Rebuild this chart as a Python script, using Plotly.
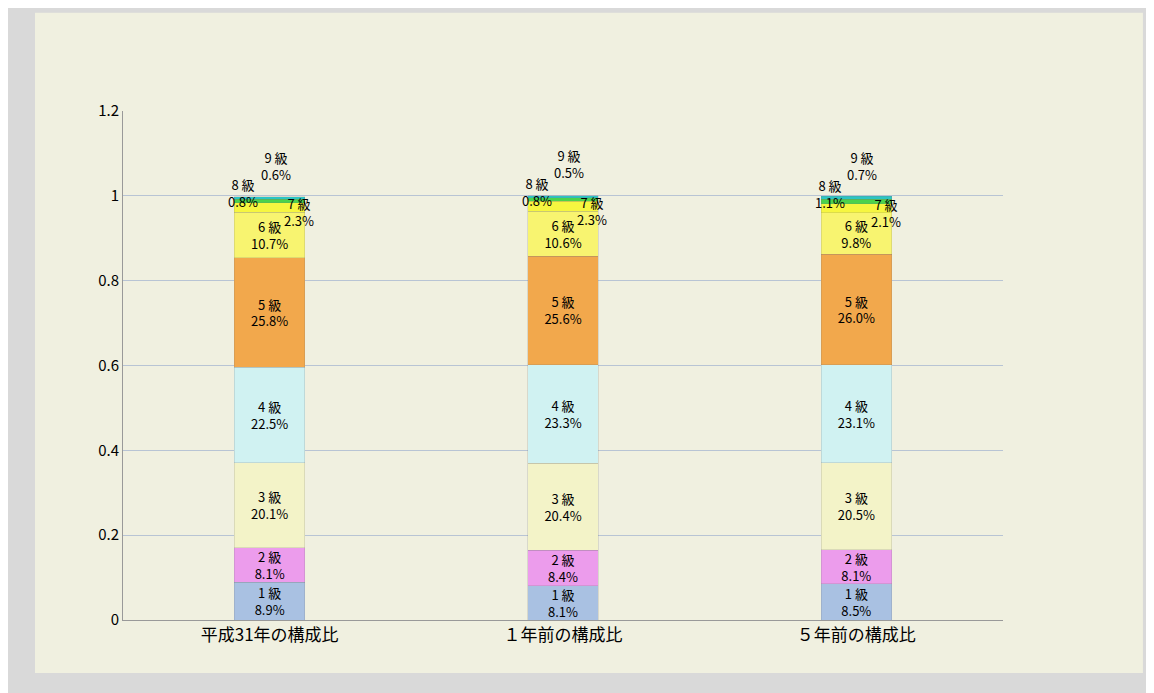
import plotly.graph_objects as go

categories = ["平成31年の構成比", "１年前の構成比", "５年前の構成比"]
grades = ["1 級", "2 級", "3 級", "4 級", "5 級", "6 級", "7 級", "8 級", "9 級"]
shares = [
    [8.9, 8.1, 8.5],
    [8.1, 8.4, 8.1],
    [20.1, 20.4, 20.5],
    [22.5, 23.3, 23.1],
    [25.8, 25.6, 26.0],
    [10.7, 10.6, 9.8],
    [2.3, 2.3, 2.1],
    [0.8, 0.8, 1.1],
    [0.6, 0.5, 0.7],
]
colors = ["#a9c1e2", "#ec9cec", "#f3f3c8", "#d0f2f2", "#f2a84c",
          "#f8f470", "#f6f640", "#4cd24c", "#2cc4c4"]

fig = go.Figure()
for g, vals, c in zip(grades, shares, colors):
    small = vals[0] < 5
    fig.add_trace(go.Bar(
        x=categories,
        y=[v / 100 for v in vals],
        name=g,
        marker=dict(color=c, line=dict(color="rgba(120,120,120,0.4)", width=0.5)),
        text=[f"{g}<br>{v:.1f}%" if not small else "" for v in vals],
        textposition="inside",
        textangle=0,
        insidetextanchor="middle",
        textfont=dict(size=13, color="black"),
        hoverinfo="skip",
        width=0.24,
    ))

# labels for the thin top segments (7, 8, 9 級)
base = [sum(shares[i][j] for i in range(6)) / 100 for j in range(3)]
offsets = [(0.1, 0.0), (-0.09, 0.045), (0.02, 0.11)]
for j, cat in enumerate(categories):
    for k, (dx, dy) in zip(range(6, 9), offsets):
        fig.add_annotation(x=j + dx, y=base[j] + dy, text=f"{grades[k]}<br>{shares[k][j]:.1f}%",
                           showarrow=False, font=dict(size=13, color="black"))

fig.add_shape(type="rect", xref="paper", yref="paper", x0=-0.1, x1=1.159, y0=-0.104, y1=1.193,
              fillcolor="#f0f0e0", line=dict(width=0), layer="below")

fig.update_layout(
    barmode="stack",
    width=1154, height=693,
    paper_bgcolor="#d9d9d9",
    plot_bgcolor="#f0f0e0",
    margin=dict(l=115, r=159, t=103, b=81),
    showlegend=False,
    uniformtext=dict(minsize=13, mode="show"),
    font=dict(family="Noto Sans CJK JP", size=14, color="black"),
    xaxis=dict(showline=True, linecolor="#999999", ticks="", tickfont=dict(size=17)),
    yaxis=dict(range=[0, 1.2], dtick=0.2, showgrid=True, gridcolor="#b8c4d4",
               showline=True, linecolor="#999999", zeroline=False,
               tickformat=".1~f", tickfont=dict(size=15)),
)
fig.write_html("out.html")
